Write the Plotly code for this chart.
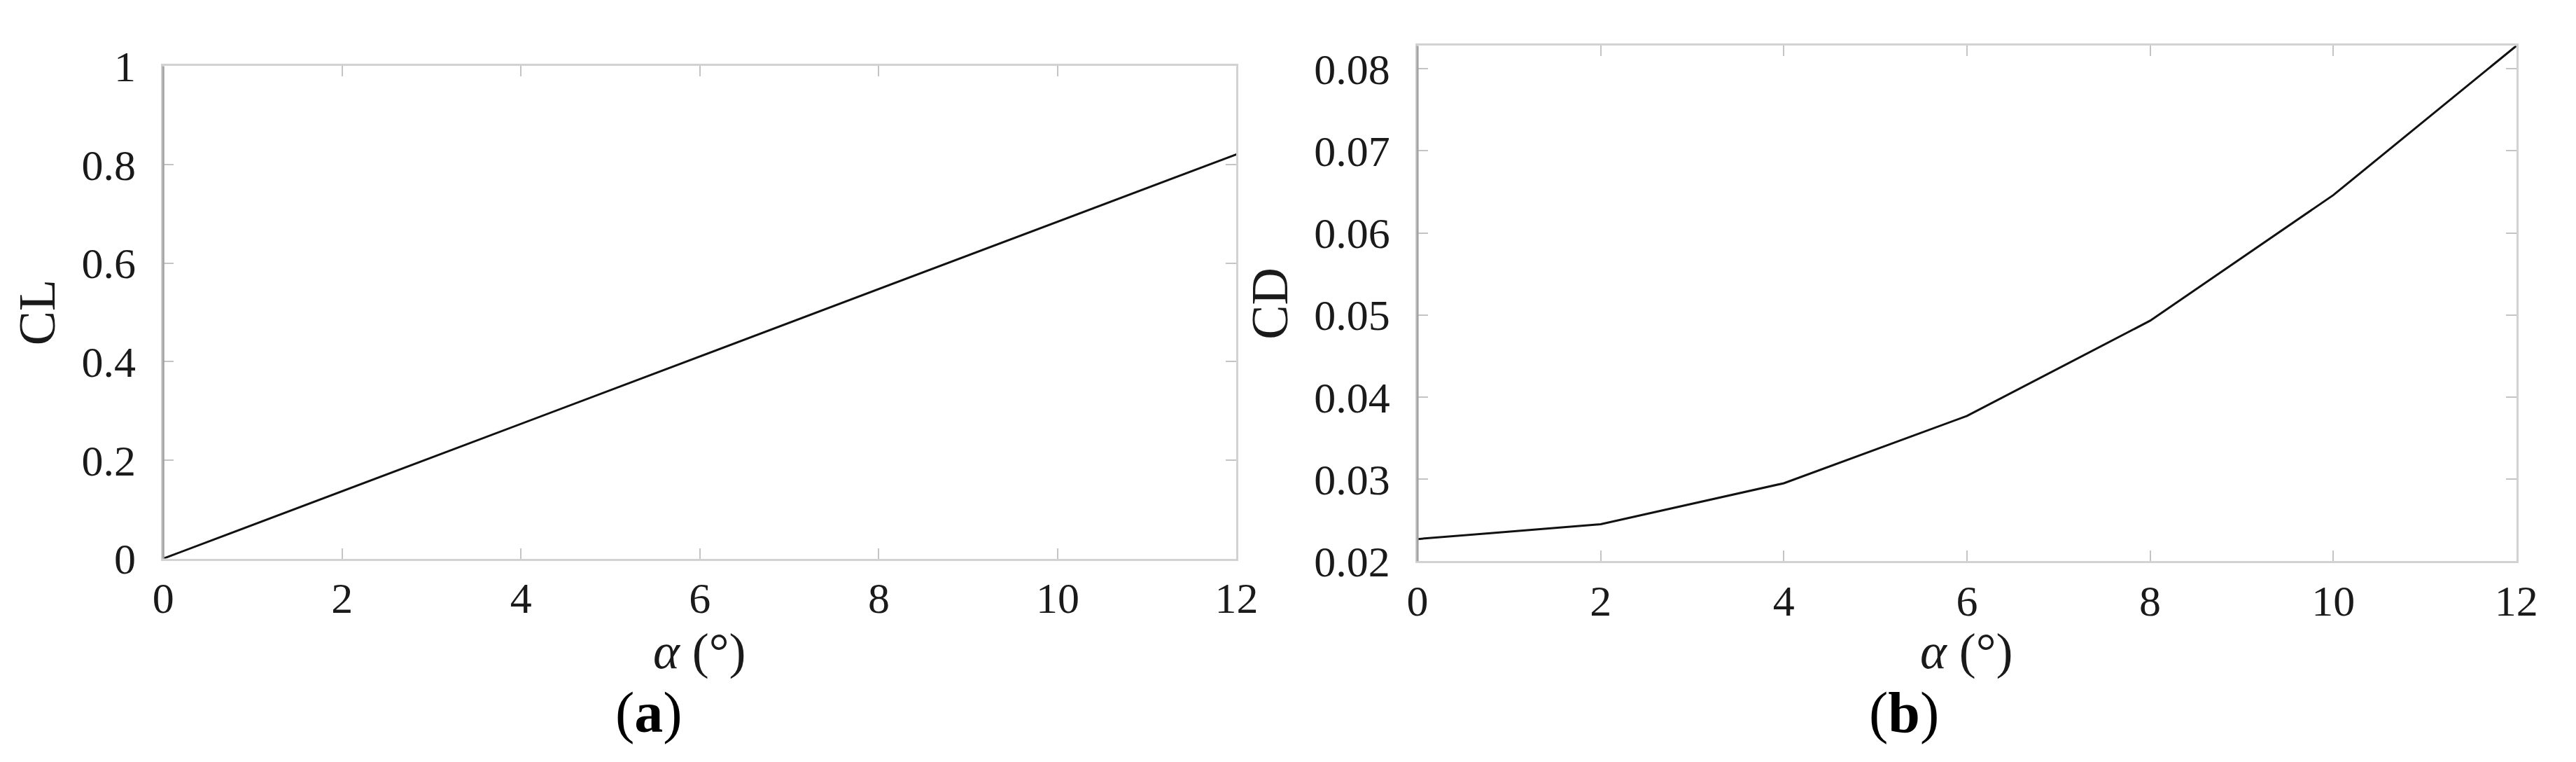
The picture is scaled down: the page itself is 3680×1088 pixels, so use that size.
import plotly.graph_objects as go

alpha = [0, 2, 4, 6, 8, 10, 12]
cl_values = [0.0, 0.137, 0.274, 0.411, 0.548, 0.685, 0.821]
cd_values = [0.0227, 0.0245, 0.0295, 0.0377, 0.0493, 0.0646, 0.0828]

x_ticks = [0, 2, 4, 6, 8, 10, 12]
cl_ticks = [0, 0.2, 0.4, 0.6, 0.8, 1]
cl_tick_text = ["0", "0.2", "0.4", "0.6", "0.8", "1"]
cd_ticks = [0.02, 0.03, 0.04, 0.05, 0.06, 0.07, 0.08]
cd_tick_text = ["0.02", "0.03", "0.04", "0.05", "0.06", "0.07", "0.08"]

W, H = 3680, 1088
FONT = "Liberation Serif"
TXT = "#1a1a1a"

L_X0, L_X1 = 212, 1765
R_X0, R_X1 = 2027, 3617

fig = go.Figure()
fig.add_trace(go.Scatter(x=alpha, y=cl_values, mode="lines",
                         line=dict(color="#111111", width=3),
                         xaxis="x", yaxis="y", showlegend=False))
fig.add_trace(go.Scatter(x=alpha, y=cd_values, mode="lines",
                         line=dict(color="#111111", width=3),
                         xaxis="x2", yaxis="y2", showlegend=False))

def xax(domain, anchor):
    return dict(domain=domain, anchor=anchor, range=[0, 12],
                tickmode="array", tickvals=x_ticks, ticktext=[str(v) for v in x_ticks],
                ticks="inside", ticklen=15, tickwidth=2, tickcolor="#c4c4c4",
                showline=True, linecolor="#d2d2d2", linewidth=3, mirror="ticks",
                showgrid=False, zeroline=False,
                tickfont=dict(family=FONT, size=62, color=TXT),
                ticklabelstandoff=0)

def yax(domain, anchor, rng, tv, tt, title):
    return dict(domain=domain, anchor=anchor, range=rng,
                tickmode="array", tickvals=tv, ticktext=tt,
                ticks="inside", ticklen=15, tickwidth=2, tickcolor="#c4c4c4",
                showline=True, linecolor="#d2d2d2", linewidth=3, mirror="ticks",
                showgrid=False, zeroline=False,
                tickfont=dict(family=FONT, size=62, color=TXT),
                ticklabelstandoff=24,
                title=dict(text=title, font=dict(family=FONT, size=74, color=TXT),
                           standoff=14))

xt_font = dict(family=FONT, size=72, color=TXT)
lab_font = dict(family=FONT, size=82, color="#000000")

fig.update_layout(
    width=W, height=H,
    margin=dict(l=0, r=0, t=0, b=0),
    paper_bgcolor="white", plot_bgcolor="white",
    xaxis=xax([L_X0 / W, L_X1 / W], "y"),
    yaxis=yax([1 - 807 / H, 1 - 57 / H], "x", [0, 1], cl_ticks, cl_tick_text, "CL"),
    xaxis2=xax([R_X0 / W, R_X1 / W], "y2"),
    yaxis2=yax([1 - 811 / H, 1 - 26 / H], "x2", [0.02, 0.0828], cd_ticks, cd_tick_text, "CD"),
    shapes=[
        dict(type="line", xref="x domain", yref="y domain", x0=0, x1=0, y0=0, y1=1,
             line=dict(color="#a4a4a4", width=3)),
        dict(type="line", xref="x2 domain", yref="y2 domain", x0=0, x1=0, y0=0, y1=1,
             line=dict(color="#a4a4a4", width=3)),
    ],
    annotations=[
        dict(text="<i>α</i> (°)", xref="paper", yref="paper",
             x=(L_X0 + L_X1) / 2 / W, y=1 - 948 / H,
             xanchor="center", yanchor="middle", showarrow=False, font=xt_font),
        dict(text="<i>α</i> (°)", xref="paper", yref="paper",
             x=(R_X0 + R_X1) / 2 / W, y=1 - 948 / H,
             xanchor="center", yanchor="middle", showarrow=False, font=xt_font),
        dict(text="(<b>a</b>)", xref="paper", yref="paper", x=915 / W, y=1 - 1042 / H,
             xanchor="center", yanchor="middle", showarrow=False, font=lab_font),
        dict(text="(<b>b</b>)", xref="paper", yref="paper", x=2731 / W, y=1 - 1042 / H,
             xanchor="center", yanchor="middle", showarrow=False, font=lab_font),
    ],
)

fig.write_html("out.html")
